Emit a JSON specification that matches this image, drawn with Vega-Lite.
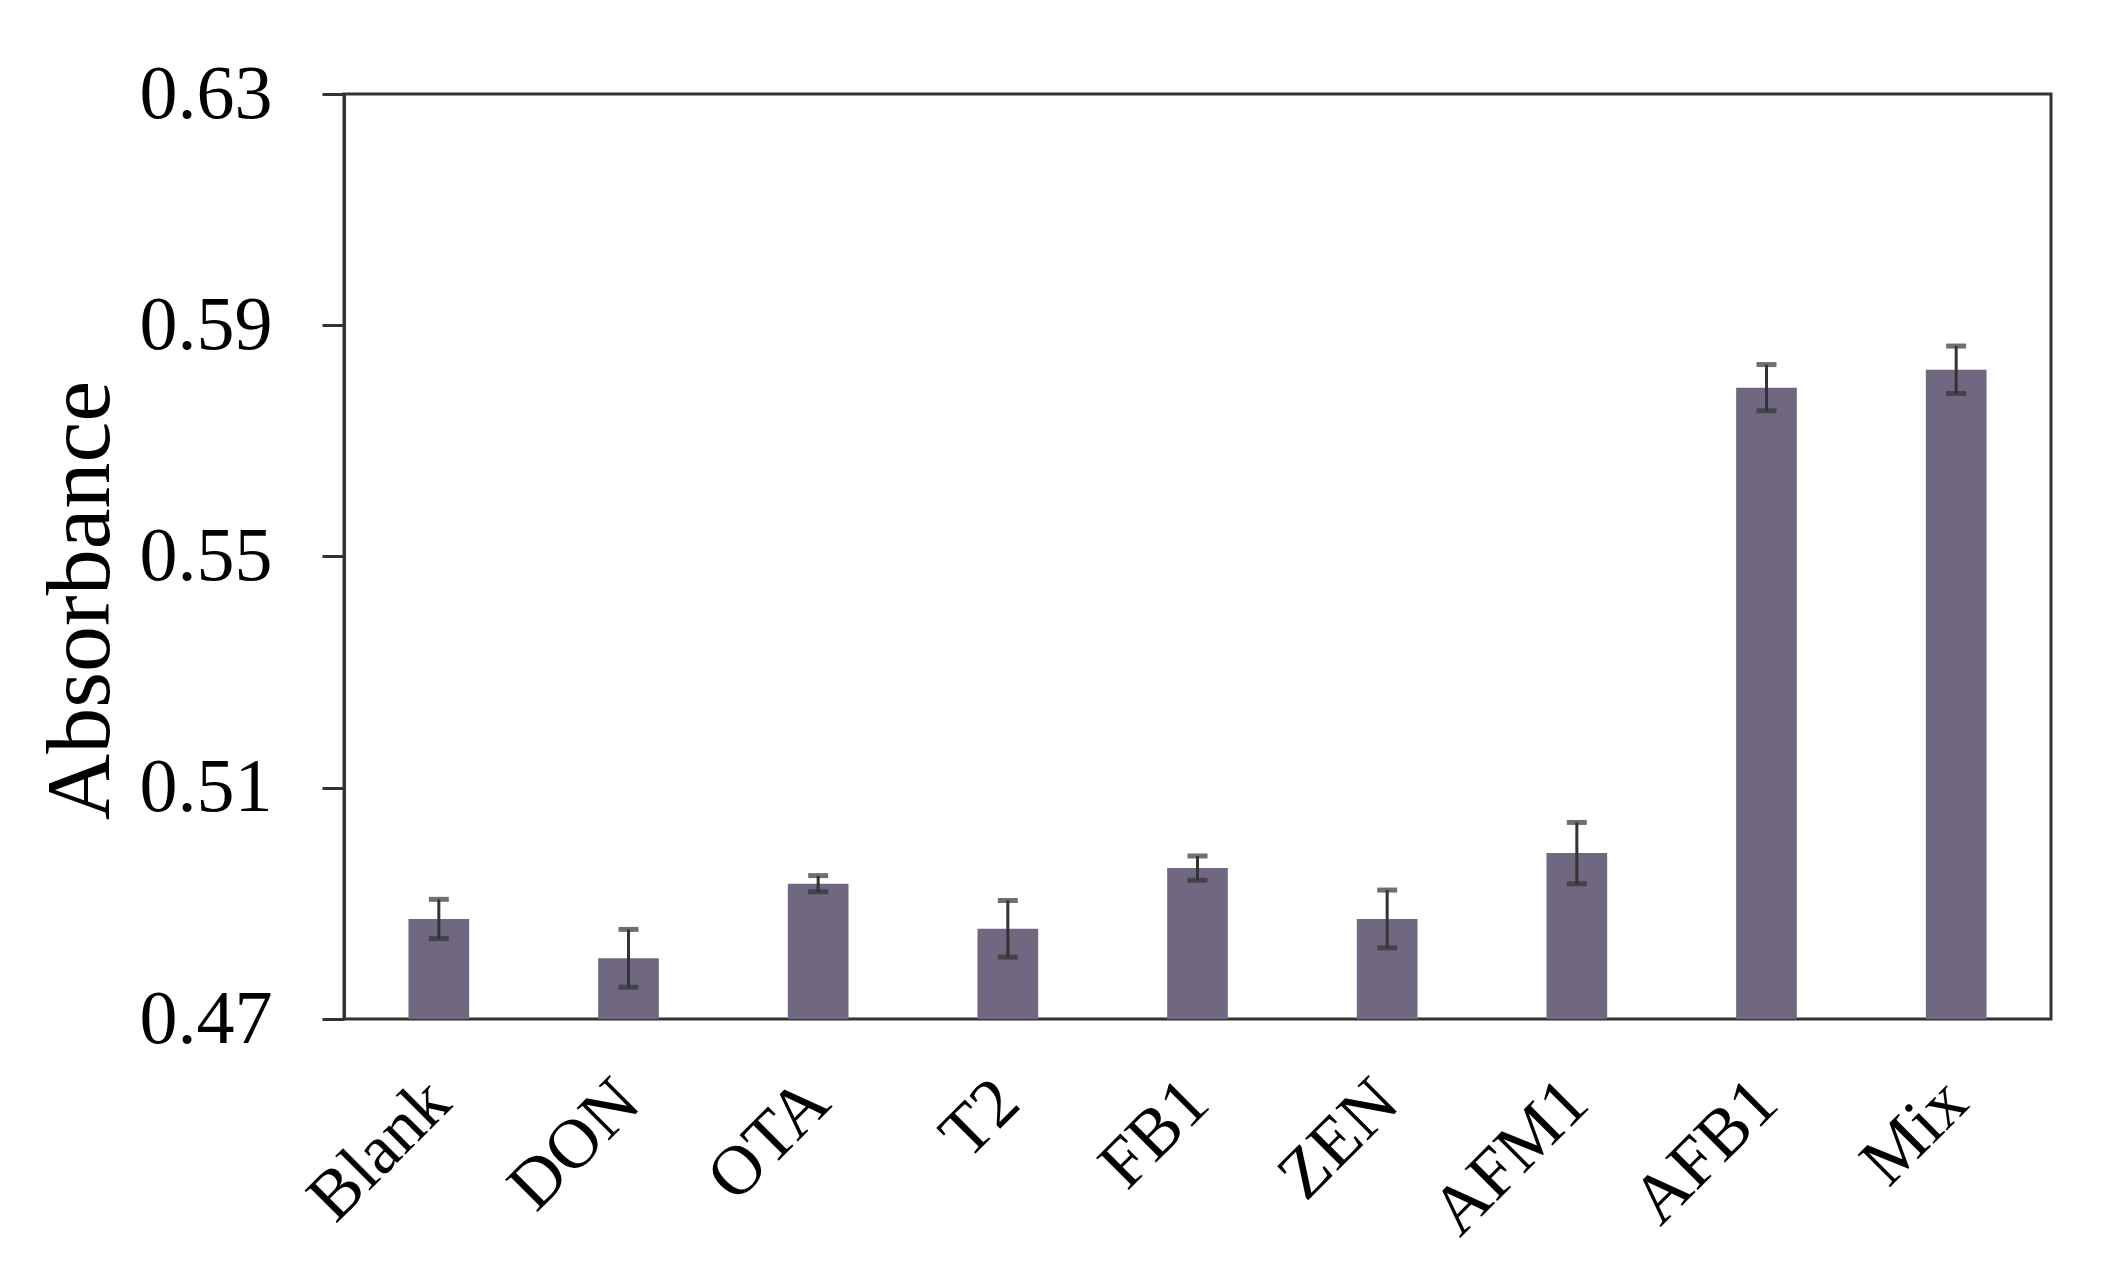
{
  "$schema": "https://vega.github.io/schema/vega-lite/v6.json",
  "width": 1707,
  "height": 925,
  "autosize": "none",
  "padding": {"left": 344, "top": 94, "right": 65, "bottom": 249},
  "background": "white",
  "config": {
    "view": {"stroke": "#333333", "strokeWidth": 3},
    "font": "Liberation Serif"
  },
  "data": {
    "values": [
      {"sample": "Blank", "absorbance": 0.4873, "sd": 0.0034},
      {"sample": "DON", "absorbance": 0.4805, "sd": 0.0050},
      {"sample": "OTA", "absorbance": 0.4934, "sd": 0.0014},
      {"sample": "T2", "absorbance": 0.4856, "sd": 0.0049},
      {"sample": "FB1", "absorbance": 0.4961, "sd": 0.0021},
      {"sample": "ZEN", "absorbance": 0.4873, "sd": 0.0050},
      {"sample": "AFM1", "absorbance": 0.4987, "sd": 0.0053},
      {"sample": "AFB1", "absorbance": 0.5792, "sd": 0.0040},
      {"sample": "Mix", "absorbance": 0.5823, "sd": 0.0041}
    ]
  },
  "encoding": {
    "x": {
      "field": "sample",
      "type": "nominal",
      "sort": null,
      "scale": {"paddingInner": 0.68, "paddingOuter": 0.34},
      "axis": {
        "title": null,
        "ticks": false,
        "domain": false,
        "labelAngle": -45,
        "labelAlign": "right",
        "labelBaseline": "middle",
        "labelFont": "Liberation Serif",
        "labelFontSize": 70,
        "labelColor": "#000000",
        "labelPadding": 72,
        "labelLimit": 0
      }
    }
  },
  "layer": [
    {
      "mark": {"type": "bar", "color": "#6f6880"},
      "encoding": {
        "y": {
          "field": "absorbance",
          "type": "quantitative",
          "title": "Absorbance",
          "scale": {"domain": [0.47, 0.63], "zero": false, "nice": false},
          "axis": {
            "title": "Absorbance",
            "values": [0.47, 0.51, 0.55, 0.59, 0.63],
            "format": ".2f",
            "grid": false,
            "tickSize": 22,
            "tickWidth": 3,
            "tickColor": "#333333",
            "domainColor": "#333333",
            "domainWidth": 3,
            "labelFont": "Liberation Serif",
            "labelFontSize": 76,
            "labelColor": "#000000",
            "labelPadding": 50,
            "titleFont": "Liberation Serif",
            "titleFontSize": 92,
            "titleFontWeight": "normal",
            "titleColor": "#000000",
            "titleAngle": -90,
            "titleAlign": "center",
            "titleBaseline": "alphabetic",
            "titleX": -236,
            "titleY": 506
          }
        },
        "y2": {"datum": 0.47}
      }
    },
    {
      "mark": {
        "type": "errorbar",
        "color": "#333333",
        "ticks": {"size": 20, "thickness": 5, "color": "#333333"},
        "rule": {"strokeWidth": 3}
      },
      "encoding": {
        "y": {"field": "absorbance", "type": "quantitative", "title": "Absorbance"},
        "yError": {"field": "sd"}
      }
    }
  ]
}
